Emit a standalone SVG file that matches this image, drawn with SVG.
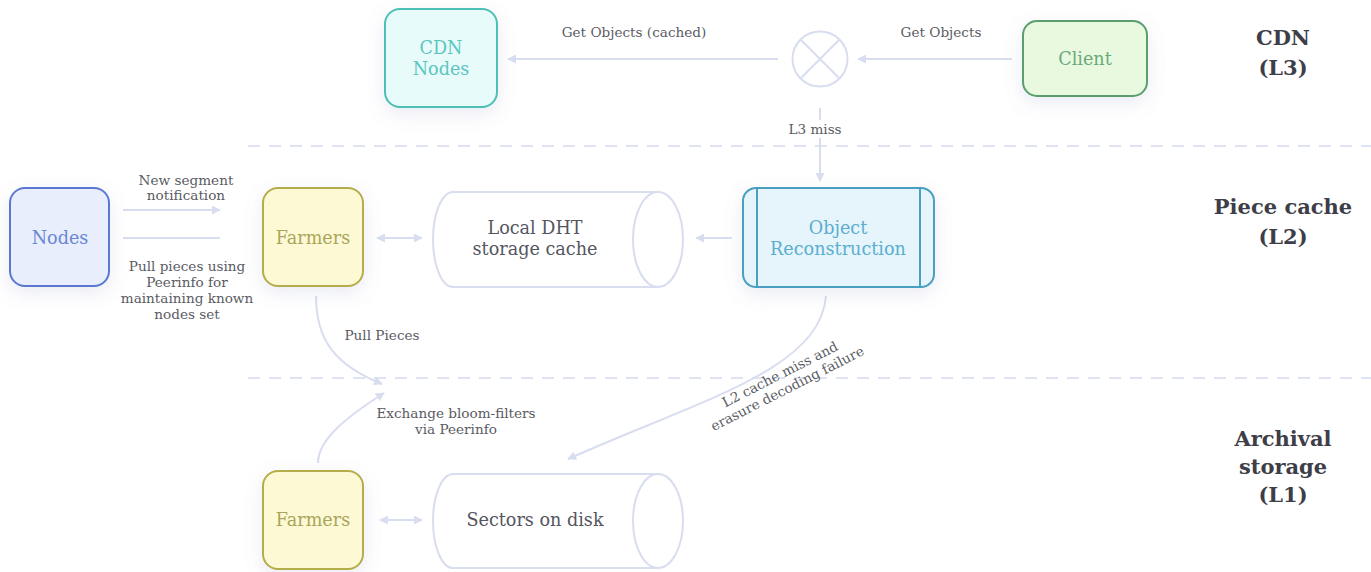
<svg xmlns="http://www.w3.org/2000/svg" width="1371" height="572" viewBox="0 0 1371 572">
<style>
.lbl{font-family:"DejaVu Serif","Liberation Serif",serif;font-size:13.6px;fill:#5a5b63;text-anchor:middle}
.node{font-family:"DejaVu Serif","Liberation Serif",serif;font-size:17.6px;text-anchor:middle}
.sec{font-family:"DejaVu Serif","Liberation Serif",serif;font-size:21px;font-weight:bold;fill:#3d3e48;text-anchor:middle}
.conn{fill:none;stroke:#d8ddf0;stroke-width:2}
.dash{stroke:#dfe3f3;stroke-width:2;stroke-dasharray:12 9}
.cyl{fill:#fff;stroke:#d9ddf0;stroke-width:2}
</style>
<defs>
<marker id="ah" viewBox="0 0 10 10" refX="9" refY="5" markerWidth="9" markerHeight="9" orient="auto-start-reverse" markerUnits="userSpaceOnUse">
<path d="M0 0 L10 5 L0 10 Z" fill="#d8ddf0"/>
</marker>
<filter id="sh" x="-40%" y="-40%" width="180%" height="180%">
<feDropShadow dx="0" dy="6" stdDeviation="9" flood-color="#7a82b8" flood-opacity="0.16"/>
</filter>
</defs>
<rect width="1371" height="572" fill="#fff"/>

<g id="dividers">
<line class="dash" x1="248" y1="146" x2="1371" y2="146"/>
<line class="dash" x1="248" y1="378" x2="1371" y2="378"/>
</g>

<g id="sections">
<text class="sec" x="1283" y="45">CDN</text>
<text class="sec" x="1283" y="75">(L3)</text>
<text class="sec" x="1283" y="214">Piece cache</text>
<text class="sec" x="1283" y="244">(L2)</text>
<text class="sec" x="1283" y="446">Archival</text>
<text class="sec" x="1283" y="474">storage</text>
<text class="sec" x="1283" y="502">(L1)</text>
</g>

<g id="connectors">
<line class="conn" x1="1012" y1="59" x2="858" y2="59" marker-end="url(#ah)"/>
<line class="conn" x1="778" y1="59" x2="508" y2="59" marker-end="url(#ah)"/>
<line class="conn" x1="820" y1="108" x2="820" y2="181" marker-end="url(#ah)"/>
<line class="conn" x1="123" y1="210" x2="220" y2="210" marker-end="url(#ah)"/>
<line class="conn" x1="123" y1="238" x2="220" y2="238"/>
<line class="conn" x1="377" y1="238" x2="422" y2="238" marker-start="url(#ah)" marker-end="url(#ah)"/>
<line class="conn" x1="732" y1="238" x2="696" y2="238" marker-end="url(#ah)"/>
<path class="conn" d="M316 296 C316 340 335 365 382 384" marker-end="url(#ah)"/>
<path class="conn" d="M318 463 C318 440 345 418 384 393" marker-end="url(#ah)"/>
<path class="conn" d="M826 296 C820 370 700 400 568 459" marker-end="url(#ah)"/>
<line class="conn" x1="380" y1="520" x2="422" y2="520" marker-start="url(#ah)" marker-end="url(#ah)"/>
</g>

<g id="labels">
<text class="lbl" x="634" y="37">Get Objects (cached)</text>
<text class="lbl" x="941" y="37">Get Objects</text>
<rect x="788" y="120" width="64" height="18" fill="#fff"/>
<text class="lbl" x="815" y="134">L3 miss</text>
<text class="lbl" x="186" y="185">New segment</text>
<text class="lbl" x="186" y="200">notification</text>
<text class="lbl" x="187" y="271">Pull pieces using</text>
<text class="lbl" x="187" y="287">Peerinfo for</text>
<text class="lbl" x="187" y="303">maintaining known</text>
<text class="lbl" x="187" y="319">nodes set</text>
<text class="lbl" x="382" y="340">Pull Pieces</text>
<text class="lbl" x="456" y="418">Exchange bloom-filters</text>
<text class="lbl" x="456" y="434">via Peerinfo</text>
<g transform="translate(784 382) rotate(-27)">
<text class="lbl" x="0" y="-4">L2 cache miss and</text>
<text class="lbl" x="0" y="12">erasure decoding failure</text>
</g>
</g>

<g id="cdn-nodes">
<rect x="385" y="9" width="112" height="98" rx="15" fill="#e8fbfb" stroke="#4dbfb5" stroke-width="2" filter="url(#sh)"/>
<text class="node" x="441" y="54" fill="#5bc6be">CDN</text>
<text class="node" x="441" y="75" fill="#5bc6be">Nodes</text>
</g>

<g id="router">
<circle cx="820" cy="59" r="27.5" fill="#fff" stroke="#d8ddf0" stroke-width="2"/>
<line x1="800.5" y1="39.5" x2="839.5" y2="78.5" stroke="#d8ddf0" stroke-width="2"/>
<line x1="839.5" y1="39.5" x2="800.5" y2="78.5" stroke="#d8ddf0" stroke-width="2"/>
</g>

<g id="client">
<rect x="1023" y="21" width="124" height="75" rx="14" fill="#e9f9e0" stroke="#5a9e6e" stroke-width="2" filter="url(#sh)"/>
<text class="node" x="1085" y="65" fill="#6aaa7a">Client</text>
</g>

<g id="nodes">
<rect x="10" y="188" width="99" height="98" rx="15" fill="#e8eefc" stroke="#5a78d0" stroke-width="2" filter="url(#sh)"/>
<text class="node" x="60" y="244" fill="#6a86d6">Nodes</text>
</g>

<g id="farmers-l2">
<rect x="263" y="188" width="100" height="98" rx="15" fill="#fdf9d5" stroke="#b5ad4a" stroke-width="2" filter="url(#sh)"/>
<text class="node" x="313" y="244" fill="#aaa55a">Farmers</text>
</g>

<g id="local-dht">
<path class="cyl" d="M658 192 L453 192 A20 47.5 0 0 0 453 287 L658 287"/>
<ellipse class="cyl" cx="658" cy="239.5" rx="25" ry="47.5"/>
<text class="node" x="535" y="234" fill="#55565f">Local DHT</text>
<text class="node" x="535" y="255" fill="#55565f">storage cache</text>
</g>

<g id="object-reconstruction">
<rect x="743" y="188" width="191" height="99" rx="13" fill="#e6f4fb" stroke="#4a9fc0" stroke-width="2" filter="url(#sh)"/>
<line x1="757" y1="189" x2="757" y2="286" stroke="#4a9fc0" stroke-width="2"/>
<line x1="920" y1="189" x2="920" y2="286" stroke="#4a9fc0" stroke-width="2"/>
<text class="node" x="838" y="234" fill="#5aaecf">Object</text>
<text class="node" x="838" y="255" fill="#5aaecf">Reconstruction</text>
</g>

<g id="farmers-l1">
<rect x="263" y="471" width="100" height="98" rx="15" fill="#fdf9d5" stroke="#b5ad4a" stroke-width="2" filter="url(#sh)"/>
<text class="node" x="313" y="526" fill="#aaa55a">Farmers</text>
</g>

<g id="sectors">
<path class="cyl" d="M658 474 L453 474 A20 47 0 0 0 453 568 L658 568"/>
<ellipse class="cyl" cx="658" cy="521" rx="25" ry="47"/>
<text class="node" x="535" y="526" fill="#55565f">Sectors on disk</text>
</g>
</svg>
